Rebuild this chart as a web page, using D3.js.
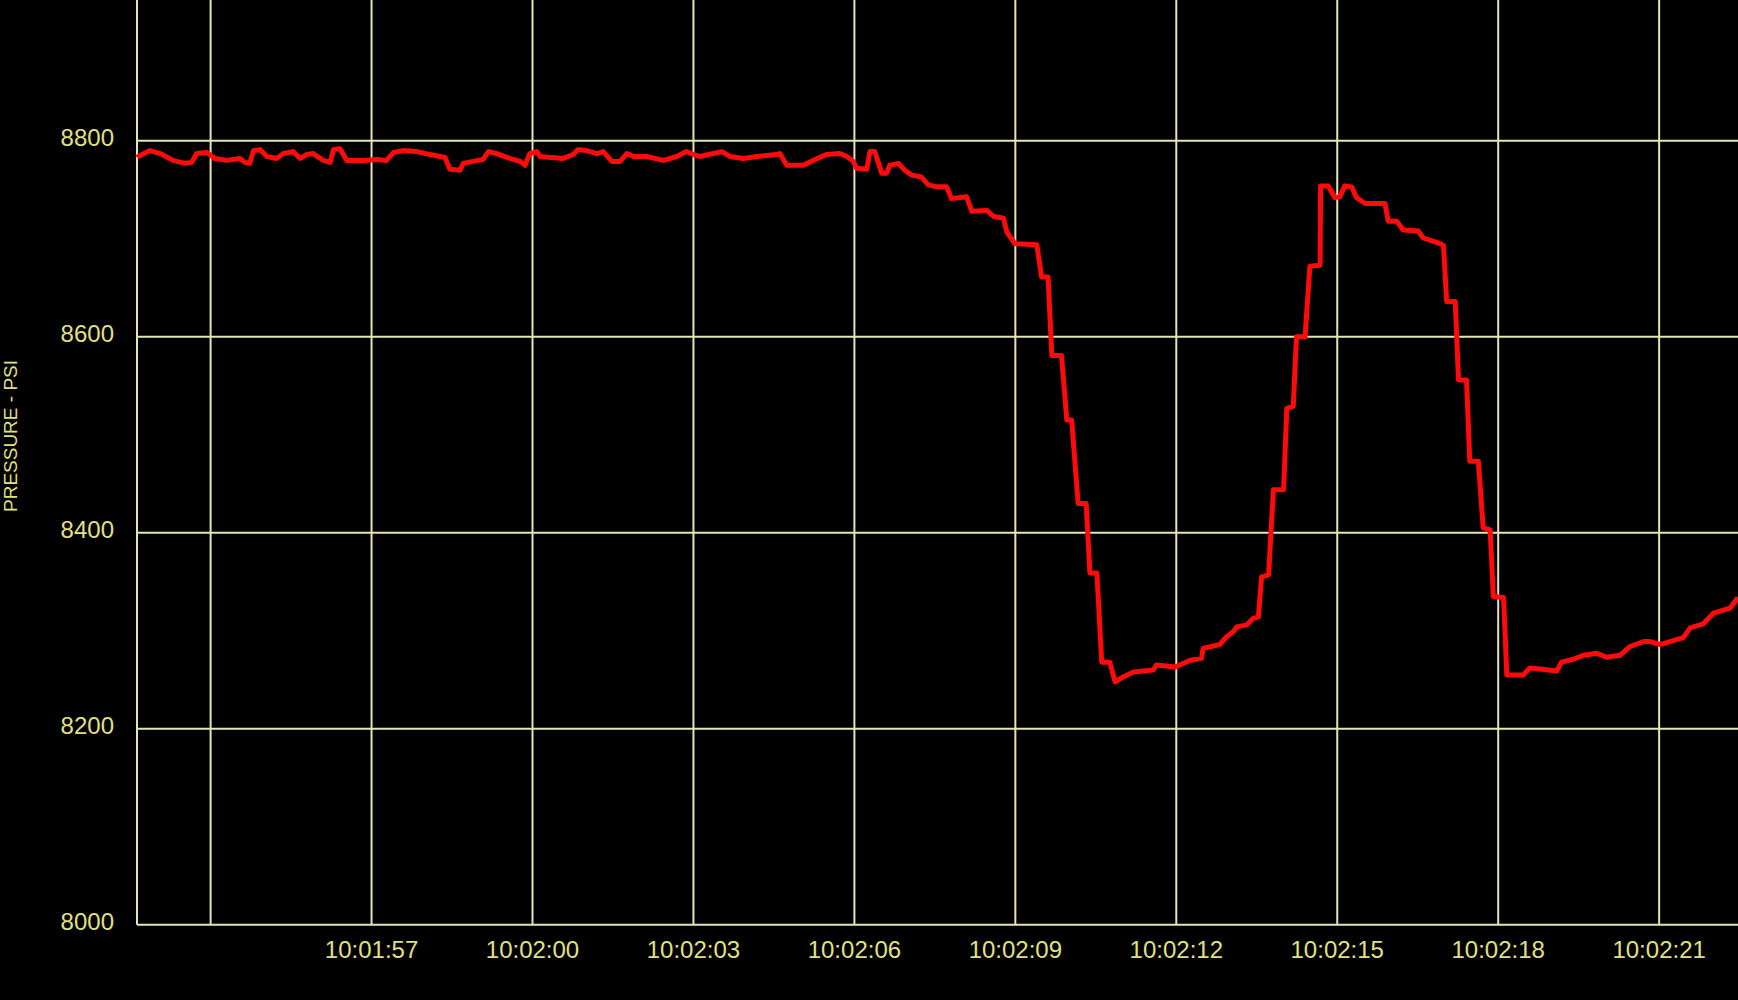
<!DOCTYPE html>
<html>
<head>
<meta charset="utf-8">
<script src="https://cdn.jsdelivr.net/npm/d3@7"></script>
<style>
  html, body { margin: 0; padding: 0; background: #000; }
  svg { display: block; }
</style>
</head>
<body>
<svg id="chart" width="1738" height="1000"></svg>
<script>
// ---- data (seconds after 10:01:54, pressure psi) ----
const timeOffsets = [
  -1.37,-1.35,-1.13,-0.94,-0.70,-0.48,-0.35,-0.26,-0.07,0.08,0.30,0.42,0.55,0.64,0.73,0.80,0.92,1.05,1.23,1.36,1.54,1.67,1.79,1.91,2.10,2.23,2.29,2.41,2.54,2.85,3.10,3.28,3.41,3.59,3.84,4.09,4.37,4.46,4.65,4.71,5.08,5.18,5.33,5.58,5.77,5.86,5.95,6.08,6.14,6.57,6.76,6.85,7.01,7.20,7.32,7.48,7.63,7.76,7.88,8.13,8.44,8.69,8.87,9.00,9.12,9.37,9.53,9.68,9.93,10.18,10.55,10.61,10.74,11.05,11.23,11.48,11.73,11.86,11.98,12.04,12.23,12.29,12.38,12.51,12.60,12.66,12.82,12.94,13.07,13.25,13.38,13.53,13.72,13.81,14.09,14.19,14.47,14.59,14.78,14.84,14.99,15.40,15.49,15.61,15.68,15.86,15.96,16.05,16.17,16.32,16.39,16.52,16.61,16.76,16.86,16.98,17.20,17.57,17.63,17.98,18.26,18.47,18.50,18.81,18.94,19.06,19.13,19.31,19.44,19.53,19.59,19.72,19.81,20.00,20.06,20.18,20.24,20.40,20.49,20.68,20.69,20.83,20.96,21.05,21.14,21.27,21.36,21.52,21.89,21.95,22.11,22.23,22.51,22.60,22.92,22.98,23.04,23.20,23.26,23.41,23.47,23.63,23.72,23.85,23.91,24.10,24.16,24.47,24.59,24.78,25.09,25.18,25.40,25.59,25.84,26.02,26.27,26.46,26.71,26.83,27.02,27.20,27.45,27.58,27.82,28.01,28.32,28.47
];
const pressureValues = [
  8783,8784,8790,8787,8780,8777,8778,8787,8788,8782,8780,8781,8782,8778,8777,8790,8791,8784,8782,8787,8789,8782,8786,8787,8780,8778,8791,8792,8780,8780,8781,8780,8788,8790,8789,8786,8783,8771,8770,8777,8781,8789,8787,8782,8779,8775,8787,8789,8784,8782,8786,8791,8790,8787,8789,8779,8779,8787,8784,8784,8780,8784,8789,8786,8784,8787,8789,8784,8782,8784,8786,8787,8775,8775,8780,8786,8787,8784,8779,8772,8771,8789,8789,8767,8767,8775,8777,8770,8765,8763,8755,8753,8753,8741,8743,8728,8729,8723,8721,8707,8695,8694,8661,8661,8581,8581,8515,8515,8430,8430,8359,8359,8268,8268,8248,8252,8258,8260,8265,8263,8270,8272,8282,8286,8294,8299,8304,8306,8313,8314,8355,8357,8444,8444,8527,8529,8600,8600,8672,8673,8754,8754,8742,8743,8754,8753,8742,8736,8736,8718,8718,8709,8708,8701,8695,8693,8636,8636,8556,8556,8473,8473,8405,8403,8335,8334,8255,8255,8262,8261,8259,8268,8271,8275,8277,8273,8275,8284,8289,8289,8286,8289,8293,8303,8307,8318,8323,8334
];
const gridTimes = ["10:01:54","10:01:57","10:02:00","10:02:03","10:02:06","10:02:09","10:02:12","10:02:15","10:02:18","10:02:21"];
const labelTimes = ["10:01:57","10:02:00","10:02:03","10:02:06","10:02:09","10:02:12","10:02:15","10:02:18","10:02:21"];
const yTicks = [8000, 8200, 8400, 8600, 8800];
const yTitle = "PRESSURE - PSI";

// ---- layout ----
const W = 1738, H = 1000;
const plotLeft = 137, plotRight = 1738, plotTop = 0, plotBottom = 924.8;
const gridColor = "#e4e4b4";
const textColor = "#e0e084";

const parseT = d3.timeParse("%H:%M:%S");
const base = parseT("10:01:54");
const toDate = s => new Date(base.getTime() + s * 1000);

const x = d3.scaleTime()
  .domain([toDate(-1.372), toDate(28.47)])
  .range([plotLeft, plotRight]);
const y = d3.scaleLinear()
  .domain([8000, 8800])
  .range([plotBottom, 140.8]);

const svg = d3.select("#chart");
svg.append("rect").attr("width", W).attr("height", H).attr("fill", "#000");

// vertical grid
svg.append("g").selectAll("line").data(gridTimes).join("line")
  .attr("x1", d => x(parseT(d))).attr("x2", d => x(parseT(d)))
  .attr("y1", plotTop).attr("y2", plotBottom)
  .attr("stroke", gridColor).attr("stroke-width", 2);

// horizontal grid
svg.append("g").selectAll("line").data(yTicks).join("line")
  .attr("x1", plotLeft).attr("x2", plotRight)
  .attr("y1", d => y(d)).attr("y2", d => y(d))
  .attr("stroke", gridColor).attr("stroke-width", 2);

// left axis line
svg.append("line")
  .attr("x1", plotLeft).attr("x2", plotLeft)
  .attr("y1", plotTop).attr("y2", plotBottom)
  .attr("stroke", gridColor).attr("stroke-width", 2);

// y labels
svg.append("g").selectAll("text").data(yTicks).join("text")
  .attr("x", 114).attr("y", d => y(d) + 5.5)
  .attr("text-anchor", "end")
  .attr("font-family", "Liberation Sans, Arial, sans-serif")
  .attr("font-size", 24)
  .attr("fill", textColor)
  .text(d => d);

// x labels
svg.append("g").selectAll("text").data(labelTimes).join("text")
  .attr("x", d => x(parseT(d))).attr("y", 957.5)
  .attr("text-anchor", "middle")
  .attr("font-family", "Liberation Sans, Arial, sans-serif")
  .attr("font-size", 24)
  .attr("fill", textColor)
  .text(d => d);

// y title
svg.append("text")
  .attr("transform", "translate(17,436) rotate(-90)")
  .attr("text-anchor", "middle")
  .attr("font-family", "Liberation Sans, Arial, sans-serif")
  .attr("font-size", 19)
  .attr("fill", textColor)
  .text(yTitle);

// trace
const data = timeOffsets.map((t, i) => ({ t: toDate(t), p: pressureValues[i] }));
svg.append("path")
  .datum(data)
  .attr("fill", "none")
  .attr("stroke", "#ff0a0a")
  .attr("stroke-width", 5)
  .attr("stroke-linejoin", "round")
  .attr("d", d3.line().x(d => x(d.t)).y(d => y(d.p)));
</script>
</body>
</html>
